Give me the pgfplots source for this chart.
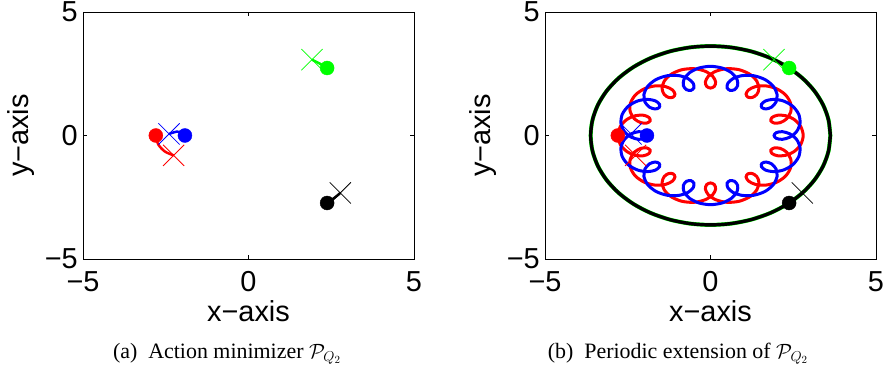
\documentclass[border=0pt]{standalone}
\usepackage{fontspec}
\setmainfont{Liberation Sans}
\newfontfamily\capfont{Liberation Serif}
\usepackage{pgfplots}
\usepackage{pgfplotstable}
\pgfplotsset{compat=1.18}

\pgfplotstableread{
x y
3.620 0.000
3.565 0.629
3.402 1.238
3.135 1.810
2.773 2.327
2.327 2.773
1.810 3.135
1.238 3.402
0.629 3.565
0.000 3.620
-0.629 3.565
-1.238 3.402
-1.810 3.135
-2.327 2.773
-2.773 2.327
-3.135 1.810
-3.402 1.238
-3.565 0.629
-3.620 0.000
-3.565 -0.629
-3.402 -1.238
-3.135 -1.810
-2.773 -2.327
-2.327 -2.773
-1.810 -3.135
-1.238 -3.402
-0.629 -3.565
0.000 -3.620
0.629 -3.565
1.238 -3.402
1.810 -3.135
2.327 -2.773
2.773 -2.327
3.135 -1.810
3.402 -1.238
3.565 -0.629
3.620 0.000
}\outerorbit

\pgfplotstableread{
x y
-2.800 0.000
-2.726 -0.363
-2.526 -0.649
-2.262 -0.804
-2.014 -0.818
-1.855 -0.725
-1.826 -0.593
-1.926 -0.504
-2.110 -0.522
-2.303 -0.679
-2.425 -0.960
-2.419 -1.308
-2.265 -1.646
-1.992 -1.896
-1.662 -2.010
-1.358 -1.980
-1.149 -1.845
-1.074 -1.676
-1.129 -1.553
-1.262 -1.540
-1.400 -1.663
-1.463 -1.903
-1.398 -2.202
-1.188 -2.480
-0.865 -2.663
-0.497 -2.705
-0.164 -2.603
0.065 -2.400
0.155 -2.168
0.116 -1.988
0.000 -1.920
-0.116 -1.988
-0.155 -2.168
-0.065 -2.400
0.164 -2.603
0.497 -2.705
0.865 -2.663
1.188 -2.480
1.398 -2.202
1.463 -1.903
1.400 -1.663
1.262 -1.540
1.129 -1.553
1.074 -1.676
1.149 -1.845
1.358 -1.980
1.662 -2.010
1.992 -1.896
2.265 -1.646
2.419 -1.308
2.425 -0.960
2.303 -0.679
2.110 -0.522
1.926 -0.504
1.826 -0.593
1.855 -0.725
2.014 -0.818
2.262 -0.804
2.526 -0.649
2.726 -0.363
2.800 0.000
2.726 0.363
2.526 0.649
2.262 0.804
2.014 0.818
1.855 0.725
1.826 0.593
1.926 0.504
2.110 0.522
2.303 0.679
2.425 0.960
2.419 1.308
2.265 1.646
1.992 1.896
1.662 2.010
1.358 1.980
1.149 1.845
1.074 1.676
1.129 1.553
1.262 1.540
1.400 1.663
1.463 1.903
1.398 2.202
1.188 2.480
0.865 2.663
0.497 2.705
0.164 2.603
-0.065 2.400
-0.155 2.168
-0.116 1.988
0.000 1.920
0.116 1.988
0.155 2.168
0.065 2.400
-0.164 2.603
-0.497 2.705
-0.865 2.663
-1.188 2.480
-1.398 2.202
-1.463 1.903
-1.400 1.663
-1.262 1.540
-1.129 1.553
-1.074 1.676
-1.149 1.845
-1.358 1.980
-1.662 2.010
-1.992 1.896
-2.265 1.646
-2.419 1.308
-2.425 0.960
-2.303 0.679
-2.110 0.522
-1.926 0.504
-1.826 0.593
-1.855 0.725
-2.014 0.818
-2.262 0.804
-2.526 0.649
-2.726 0.363
-2.800 0.000
}\redorbit

\pgfplotstableread{
x y
-1.920 0.000
-1.988 0.116
-2.168 0.155
-2.400 0.065
-2.603 -0.164
-2.705 -0.497
-2.663 -0.865
-2.480 -1.188
-2.202 -1.398
-1.903 -1.463
-1.663 -1.400
-1.540 -1.262
-1.553 -1.129
-1.676 -1.074
-1.845 -1.149
-1.980 -1.358
-2.010 -1.662
-1.896 -1.992
-1.646 -2.265
-1.308 -2.419
-0.960 -2.425
-0.679 -2.303
-0.522 -2.110
-0.504 -1.926
-0.593 -1.826
-0.725 -1.855
-0.818 -2.014
-0.804 -2.262
-0.649 -2.526
-0.363 -2.726
0.000 -2.800
0.363 -2.726
0.649 -2.526
0.804 -2.262
0.818 -2.014
0.725 -1.855
0.593 -1.826
0.504 -1.926
0.522 -2.110
0.679 -2.303
0.960 -2.425
1.308 -2.419
1.646 -2.265
1.896 -1.992
2.010 -1.662
1.980 -1.358
1.845 -1.149
1.676 -1.074
1.553 -1.129
1.540 -1.262
1.663 -1.400
1.903 -1.463
2.202 -1.398
2.480 -1.188
2.663 -0.865
2.705 -0.497
2.603 -0.164
2.400 0.065
2.168 0.155
1.988 0.116
1.920 0.000
1.988 -0.116
2.168 -0.155
2.400 -0.065
2.603 0.164
2.705 0.497
2.663 0.865
2.480 1.188
2.202 1.398
1.903 1.463
1.663 1.400
1.540 1.262
1.553 1.129
1.676 1.074
1.845 1.149
1.980 1.358
2.010 1.662
1.896 1.992
1.646 2.265
1.308 2.419
0.960 2.425
0.679 2.303
0.522 2.110
0.504 1.926
0.593 1.826
0.725 1.855
0.818 2.014
0.804 2.262
0.649 2.526
0.363 2.726
0.000 2.800
-0.363 2.726
-0.649 2.526
-0.804 2.262
-0.818 2.014
-0.725 1.855
-0.593 1.826
-0.504 1.926
-0.522 2.110
-0.679 2.303
-0.960 2.425
-1.308 2.419
-1.646 2.265
-1.896 1.992
-2.010 1.662
-1.980 1.358
-1.845 1.149
-1.676 1.074
-1.553 1.129
-1.540 1.262
-1.663 1.400
-1.903 1.463
-2.202 1.398
-2.480 1.188
-2.663 0.865
-2.705 0.497
-2.603 0.164
-2.400 -0.065
-2.168 -0.155
-1.988 -0.116
-1.920 0.000
}\blueorbit

\definecolor{mred}{rgb}{1,0,0}
\definecolor{mblue}{rgb}{0,0,1}
\definecolor{mgreen}{rgb}{0,1,0}

\pgfplotsset{
  mstyle/.style={
    scale only axis, width=331bp, height=247bp,
    anchor=south west,
    xmin=-5, xmax=5, ymin=-5, ymax=5,
    xtick={-5,0,5}, ytick={-5,0,5},
    xticklabels={−5,0,5}, yticklabels={−5,0,5},
    tick align=inside, major tick length=4bp,
    tick style={black, line width=0.5bp},
    axis line style={black, line width=0.8bp},
    xticklabel style={font=\fontsize{29}{29}\selectfont, yshift=-9bp},
    yticklabel style={font=\fontsize{29}{29}\selectfont, inner xsep=5bp},
    xlabel={x−axis}, ylabel={y−axis},
    xlabel style={font=\fontsize{29}{29}\selectfont, at={(axis description cs:0.5,-0.255)}, anchor=base},
    ylabel style={font=\fontsize{29}{29}\selectfont, at={(axis description cs:-0.165,0.5)}, anchor=base, rotate=0},
    dot/.style={only marks, mark=*, mark size=7bp},
    cross/.style={only marks, mark=x, mark size=15bp, mark options={line width=0.8bp}},
  }
}

\begin{document}
\begin{tikzpicture}
\useasboundingbox (0,0) rectangle (888bp,379bp);

% (a)
\begin{axis}[mstyle, at={(83bp,120bp)}]
\addplot[dot, mred, mark options={fill=mred}] coordinates {(-2.800,0.000)};
\addplot[dot, mblue, mark options={fill=mblue}] coordinates {(-1.920,0.000)};
\addplot[dot, mgreen, mark options={fill=mgreen}] coordinates {(2.375,2.732)};
\addplot[dot, black, mark options={fill=black}] coordinates {(2.375,-2.732)};
\addplot[cross, mred] coordinates {(-2.262,-0.804)};
\addplot[cross, mblue] coordinates {(-2.400,0.065)};
\addplot[cross, mgreen] coordinates {(1.918,3.070)};
\addplot[cross, black] coordinates {(2.773,-2.327)};
\addplot[mred, line width=2.5bp, smooth] coordinates {(-2.800,0.000) (-2.726,-0.363) (-2.526,-0.649) (-2.262,-0.804)};
\addplot[mblue, line width=2.5bp, smooth] coordinates {(-1.920,0.000) (-1.988,0.116) (-2.168,0.155) (-2.400,0.065)};
\addplot[mgreen, line width=2.5bp, smooth] coordinates {(2.375,2.732) (2.229,2.853) (2.076,2.965) (1.918,3.070)};
\addplot[black, line width=2.5bp, smooth] coordinates {(2.375,-2.732) (2.515,-2.604) (2.648,-2.469) (2.773,-2.327)};
\end{axis}

% (b)
\begin{axis}[mstyle, at={(545bp,120bp)}]
\addplot[dot, mred, mark options={fill=mred}] coordinates {(-2.800,0.000)};
\addplot[dot, mblue, mark options={fill=mblue}] coordinates {(-1.920,0.000)};
\addplot[dot, mgreen, mark options={fill=mgreen}] coordinates {(2.375,2.732)};
\addplot[dot, black, mark options={fill=black}] coordinates {(2.375,-2.732)};
\addplot[cross, mred] coordinates {(-2.262,-0.804)};
\addplot[cross, mblue] coordinates {(-2.400,0.065)};
\addplot[cross, mgreen] coordinates {(1.918,3.070)};
\addplot[cross, black] coordinates {(2.773,-2.327)};
\addplot[mred, line width=3bp, smooth] table[x=x,y=y] {\redorbit};
\addplot[mblue, line width=3bp, smooth] table[x=x,y=y] {\blueorbit};
\addplot[mgreen, line width=4bp, smooth] table[x=x,y=y] {\outerorbit};
\addplot[black, line width=3.4bp, smooth] table[x=x,y=y] {\outerorbit};
\end{axis}

\node[anchor=base, font=\capfont\fontsize{22}{22}\selectfont] at (227bp,21bp) {(a)\ \ Action minimizer $\mathcal{P}_{Q_2}$};
\node[anchor=base, font=\capfont\fontsize{22}{22}\selectfont] at (678bp,21bp) {(b)\ \ Periodic extension of $\mathcal{P}_{Q_2}$};
\end{tikzpicture}
\end{document}
